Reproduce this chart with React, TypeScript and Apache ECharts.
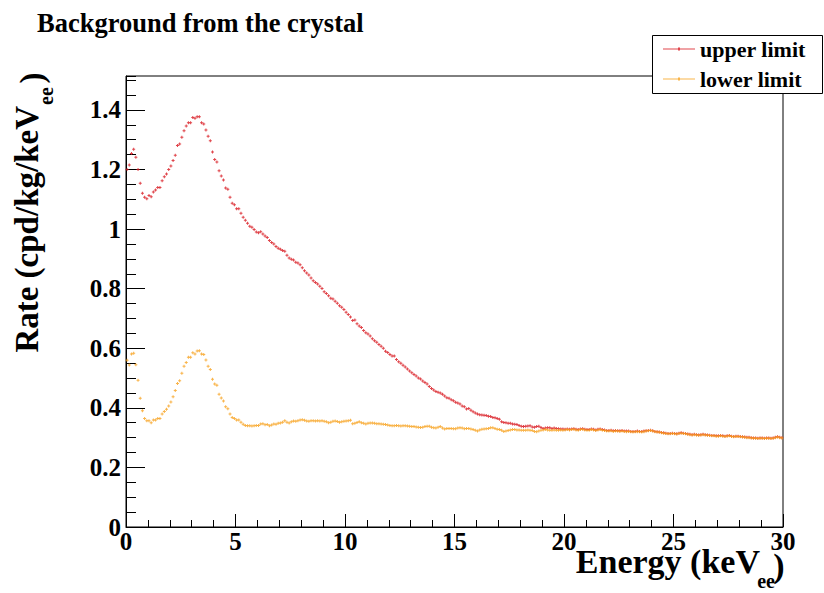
import React, { useEffect, useRef } from "react";
import * as echarts from "echarts";

const FONT = "Liberation Serif, Times New Roman, serif";

const titleText = "Background from the crystal";
const seriesNames = ["upper limit", "lower limit"];
const seriesColors = ["#d8161e", "#f7a11d"];
const binWidth = 0.1; // keV

// Rate (cpd/kg/keVee), one value per 0.1 keV bin from 0 to 30 keV
const upperLimit = [
  1.200, 1.215, 1.254, 1.268, 1.241, 1.200, 1.154, 1.120, 1.107, 1.102,
  1.113, 1.109, 1.125, 1.131, 1.140, 1.140, 1.162, 1.176, 1.185, 1.200,
  1.212, 1.230, 1.248, 1.281, 1.286, 1.308, 1.330, 1.346, 1.357, 1.357,
  1.375, 1.372, 1.377, 1.377, 1.357, 1.353, 1.333, 1.312, 1.297, 1.259,
  1.234, 1.225, 1.196, 1.178, 1.165, 1.138, 1.134, 1.107, 1.087, 1.082,
  1.068, 1.068, 1.053, 1.040, 1.030, 1.020, 1.010, 1.006, 0.999, 0.990,
  0.988, 0.991, 0.984, 0.977, 0.972, 0.962, 0.955, 0.950, 0.942, 0.936,
  0.932, 0.928, 0.926, 0.912, 0.903, 0.899, 0.896, 0.889, 0.886, 0.880,
  0.870, 0.860, 0.853, 0.846, 0.836, 0.827, 0.821, 0.816, 0.808, 0.801,
  0.790, 0.784, 0.776, 0.768, 0.765, 0.758, 0.751, 0.743, 0.738, 0.730,
  0.721, 0.713, 0.705, 0.693, 0.695, 0.682, 0.675, 0.670, 0.660, 0.652,
  0.648, 0.641, 0.632, 0.625, 0.620, 0.613, 0.607, 0.600, 0.590, 0.586,
  0.579, 0.574, 0.574, 0.562, 0.555, 0.550, 0.543, 0.537, 0.530, 0.524,
  0.518, 0.512, 0.507, 0.500, 0.497, 0.490, 0.485, 0.480, 0.472, 0.465,
  0.460, 0.455, 0.452, 0.450, 0.446, 0.440, 0.434, 0.432, 0.427, 0.424,
  0.419, 0.416, 0.413, 0.406, 0.404, 0.396, 0.398, 0.392, 0.387, 0.383,
  0.379, 0.377, 0.376, 0.375, 0.374, 0.372, 0.371, 0.368, 0.367, 0.364,
  0.362, 0.353, 0.351, 0.350, 0.348, 0.348, 0.346, 0.345, 0.344, 0.341,
  0.338, 0.337, 0.338, 0.339, 0.340, 0.336, 0.335, 0.337, 0.338, 0.334,
  0.331, 0.332, 0.333, 0.333, 0.331, 0.332, 0.331, 0.330, 0.329, 0.329,
  0.328, 0.329, 0.328, 0.329, 0.330, 0.328, 0.327, 0.329, 0.330, 0.328,
  0.327, 0.327, 0.329, 0.328, 0.326, 0.328, 0.329, 0.327, 0.326, 0.324,
  0.324, 0.325, 0.323, 0.324, 0.323, 0.323, 0.324, 0.322, 0.322, 0.322,
  0.321, 0.321, 0.321, 0.322, 0.321, 0.321, 0.322, 0.323, 0.324, 0.325,
  0.323, 0.321, 0.320, 0.319, 0.317, 0.316, 0.315, 0.314, 0.314, 0.315,
  0.314, 0.313, 0.315, 0.316, 0.315, 0.314, 0.312, 0.311, 0.310, 0.311,
  0.310, 0.309, 0.310, 0.311, 0.310, 0.309, 0.308, 0.307, 0.307, 0.306,
  0.306, 0.307, 0.306, 0.305, 0.306, 0.307, 0.305, 0.304, 0.305, 0.305,
  0.304, 0.303, 0.302, 0.301, 0.301, 0.300, 0.299, 0.299, 0.298, 0.299,
  0.299, 0.298, 0.299, 0.299, 0.298, 0.299, 0.301, 0.303, 0.301, 0.300,
];

const lowerLimit = [
  0.560, 0.544, 0.581, 0.583, 0.545, 0.493, 0.432, 0.390, 0.364, 0.357,
  0.357, 0.350, 0.359, 0.359, 0.364, 0.364, 0.379, 0.388, 0.395, 0.406,
  0.420, 0.437, 0.458, 0.482, 0.491, 0.516, 0.540, 0.552, 0.570, 0.570,
  0.585, 0.581, 0.591, 0.592, 0.581, 0.579, 0.561, 0.540, 0.529, 0.496,
  0.480, 0.476, 0.446, 0.433, 0.423, 0.404, 0.397, 0.379, 0.368, 0.364,
  0.359, 0.359, 0.352, 0.345, 0.341, 0.340, 0.340, 0.339, 0.340, 0.341,
  0.341, 0.346, 0.347, 0.343, 0.344, 0.340, 0.342, 0.346, 0.345, 0.348,
  0.349, 0.352, 0.357, 0.352, 0.349, 0.353, 0.356, 0.355, 0.357, 0.359,
  0.360, 0.358, 0.356, 0.355, 0.357, 0.357, 0.356, 0.357, 0.356, 0.357,
  0.355, 0.353, 0.350, 0.352, 0.355, 0.356, 0.354, 0.352, 0.353, 0.355,
  0.356, 0.357, 0.358, 0.347, 0.348, 0.351, 0.353, 0.350, 0.348, 0.346,
  0.348, 0.349, 0.349, 0.348, 0.347, 0.347, 0.346, 0.345, 0.344, 0.342,
  0.341, 0.340, 0.340, 0.341, 0.340, 0.339, 0.340, 0.340, 0.339, 0.338,
  0.337, 0.337, 0.336, 0.335, 0.334, 0.335, 0.337, 0.338, 0.338, 0.335,
  0.333, 0.332, 0.335, 0.337, 0.332, 0.329, 0.331, 0.331, 0.331, 0.330,
  0.330, 0.332, 0.333, 0.332, 0.330, 0.331, 0.331, 0.329, 0.327, 0.325,
  0.322, 0.326, 0.328, 0.329, 0.330, 0.331, 0.333, 0.333, 0.331, 0.328,
  0.327, 0.325, 0.321, 0.322, 0.324, 0.326, 0.327, 0.327, 0.326, 0.326,
  0.325, 0.325, 0.325, 0.326, 0.325, 0.324, 0.321, 0.320, 0.322, 0.325,
  0.326, 0.327, 0.326, 0.325, 0.325, 0.326, 0.325, 0.325, 0.326, 0.325,
  0.326, 0.327, 0.326, 0.327, 0.328, 0.326, 0.325, 0.327, 0.328, 0.326,
  0.325, 0.325, 0.327, 0.326, 0.324, 0.326, 0.327, 0.325, 0.324, 0.322,
  0.322, 0.323, 0.321, 0.322, 0.322, 0.321, 0.322, 0.321, 0.320, 0.321,
  0.320, 0.319, 0.320, 0.320, 0.320, 0.319, 0.320, 0.322, 0.323, 0.324,
  0.322, 0.320, 0.319, 0.318, 0.316, 0.315, 0.314, 0.313, 0.313, 0.314,
  0.313, 0.312, 0.314, 0.315, 0.314, 0.313, 0.311, 0.310, 0.309, 0.310,
  0.309, 0.308, 0.309, 0.310, 0.309, 0.308, 0.307, 0.306, 0.306, 0.305,
  0.305, 0.306, 0.305, 0.304, 0.305, 0.306, 0.304, 0.303, 0.304, 0.304,
  0.303, 0.302, 0.301, 0.300, 0.300, 0.299, 0.298, 0.298, 0.297, 0.298,
  0.298, 0.297, 0.298, 0.298, 0.297, 0.298, 0.300, 0.302, 0.300, 0.299,
];

const xRange = [0, 30];
const xMajorStep = 5;
const yRange = [0, 1.514];
const yMajorStep = 0.2;
const yMinorStep = 0.05;

const markerPath = "path://M0,1H3V2H0Z M1,0H2V3H1Z";

export default function App() {
  const ref = useRef<HTMLDivElement>(null);

  useEffect(() => {
    if (!ref.current) return;
    const chart = echarts.init(ref.current, null, { renderer: "svg" });
    const toPoints = (vals: number[]) =>
      vals.map((v, i) => [(i + 0.5) * binWidth, v]);

    const labelStyle = {
      fontFamily: FONT,
      fontWeight: "bold",
      fontSize: 25,
      color: "#000",
    };

    const txt = (
      text: string,
      x: number,
      y: number,
      size: number,
      align: string,
      rotation = 0
    ) => ({
      type: "text",
      x,
      y,
      rotation,
      z: 50,
      style: {
        text,
        fontFamily: FONT,
        fontWeight: "bold",
        fontSize: size,
        fill: "#000",
        align,
        verticalAlign: "middle",
      },
    });

    chart.setOption({
      animation: false,
      backgroundColor: "#ffffff",
      grid: {
        left: 126,
        top: 76,
        width: 657,
        height: 451,
        show: true,
        borderColor: "#000",
        borderWidth: 1,
        backgroundColor: "transparent",
      },
      xAxis: {
        type: "value",
        min: xRange[0],
        max: xRange[1],
        interval: xMajorStep,
        axisLine: { show: true, onZero: false, lineStyle: { color: "#000", width: 1 } },
        axisTick: { show: true, inside: true, length: 13, lineStyle: { color: "#000", width: 1 } },
        minorTick: { show: true, splitNumber: 5, length: 7, lineStyle: { color: "#000", width: 1 } },
        axisLabel: { ...labelStyle, margin: 2 },
        splitLine: { show: false },
        minorSplitLine: { show: false },
      },
      yAxis: [
        {
          type: "value",
          min: yRange[0],
          max: yRange[1],
          interval: yMajorStep,
          axisLine: { show: true, onZero: false, lineStyle: { color: "#000", width: 1 } },
          axisTick: { show: true, inside: true, length: 19, lineStyle: { color: "#000", width: 1 } },
          axisLabel: { ...labelStyle, margin: 5, showMaxLabel: false },
          splitLine: { show: false },
        },
        {
          type: "value",
          min: yRange[0],
          max: yRange[1],
          interval: yMinorStep,
          position: "left",
          axisLine: { show: false },
          axisTick: { show: true, inside: true, length: 10, lineStyle: { color: "#000", width: 1 } },
          axisLabel: { show: false },
          splitLine: { show: false },
        },
      ],
      legend: {
        orient: "vertical",
        left: 658,
        top: 33,
        itemWidth: 32,
        itemHeight: 3,
        itemGap: 8,
        z: 200,
        selectedMode: false,
        textStyle: { fontFamily: FONT, fontWeight: "bold", fontSize: 22, color: "#000" },
        data: seriesNames.map((n) => ({
          name: n,
          icon: "path://M0,1H32V2H0Z M15,0H17V3H15Z",
        })),
      },
      graphic: [
        {
          type: "rect",
          z: 150,
          shape: { x: 652.5, y: 35.5, width: 170, height: 58 },
          style: { fill: "#fff", stroke: "#000", lineWidth: 1 },
        },
        txt(titleText, 37, 23, 26.5, "left"),
        txt("Energy (keV", 760, 561, 34, "right"),
        txt("ee", 766, 581, 20, "center"),
        txt(")", 779, 565, 34, "center"),
        txt("Rate (cpd/kg/keV", 27, 106, 33, "right", Math.PI / 2),
        txt("ee", 46, 96, 20, "center", Math.PI / 2),
        txt(")", 32, 78, 33, "center", Math.PI / 2),
      ],
      series: [
        {
          name: seriesNames[0],
          type: "scatter",
          data: toPoints(upperLimit),
          symbol: markerPath,
          symbolSize: 3,
          itemStyle: { color: seriesColors[0] },
          z: 3,
        },
        {
          name: seriesNames[1],
          type: "scatter",
          data: toPoints(lowerLimit),
          symbol: markerPath,
          symbolSize: 3,
          itemStyle: { color: seriesColors[1] },
          z: 4,
        },
      ],
    });

    return () => chart.dispose();
  }, []);

  return (
    <div
      ref={ref}
      style={{ position: "fixed", left: 0, top: 0, width: 824, height: 593 }}
    />
  );
}
